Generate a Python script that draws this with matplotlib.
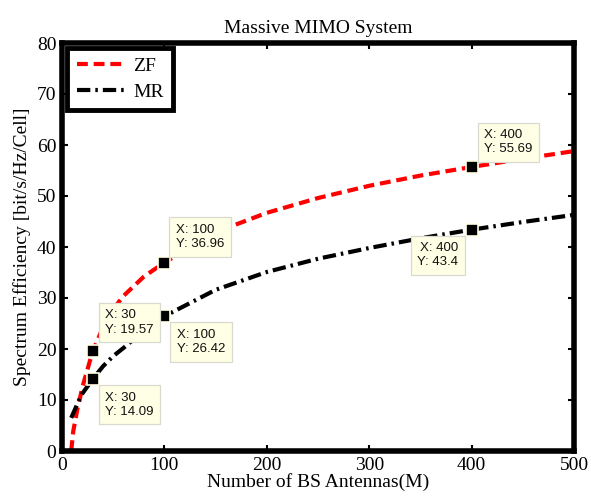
import matplotlib
matplotlib.use("Agg")
import matplotlib.pyplot as plt

m_zf = [9, 11, 15, 17.6, 20, 30, 40, 50, 60, 80, 100, 150, 200, 250, 300, 350, 400, 450, 500]
se_zf = [0.0, 3.9, 8.2, 10.4, 12.6, 19.57, 24.2, 27.8, 30.4, 34.2, 36.96, 42.9, 46.7, 49.6, 52.0, 54.0, 55.69, 57.3, 58.8]
m_mr = [9, 17.6, 20, 30, 40, 50, 60, 80, 100, 150, 200, 250, 300, 350, 400, 450, 500]
se_mr = [6.5, 10.4, 11.3, 14.09, 16.6, 18.6, 20.2, 23.6, 26.42, 31.6, 35.1, 37.7, 39.8, 41.7, 43.4, 44.9, 46.3]

# data tips: x, y, text offset (px), alignment
tips = [
    (30, 19.57, (12.5, 15.5), "left", "bottom"),
    (100, 36.96, (11.5, 12.5), "left", "bottom"),
    (400, 55.69, (12.5, 11.5), "left", "bottom"),
    (30, 14.09, (12.5, -12.5), "left", "top"),
    (100, 26.42, (12.5, -12.5), "left", "top"),
    (400, 43.4, (-13.5, -12.5), "right", "top"),
]

SERIF = ["Liberation Serif", "DejaVu Serif"]
TIPFACE, TIPEDGE = "#ffffe6", "#d9d9d0"

fig = plt.figure(figsize=(5.91, 5.0), dpi=100)
ax = fig.add_axes([62 / 591, 49 / 500, 512 / 591, 408 / 500])

ax.plot(m_zf, se_zf, color="red", lw=3, linestyle=(0, (2.6, 1.4)), label="ZF")
ax.plot(m_mr, se_mr, color="black", lw=3, linestyle=(0, (3.2, 1.2, 0.6, 1.2)), label="MR")

for x, y, off, ha, va in tips:
    ax.plot([x], [y], marker="s", ms=8, color="black", mec=TIPFACE, mew=1.2, zorder=5)
    ax.annotate(f"X: {x:g}\nY: {y:g}", (x, y), xytext=off, textcoords="offset pixels",
                ha=ha, va=va, fontsize=9.5, family="Liberation Sans", color="#111111",
                linespacing=1.25, zorder=6,
                bbox=dict(boxstyle="square,pad=0.5", fc=TIPFACE, ec=TIPEDGE, lw=0.9))

ax.set_xlim(0, 500)
ax.set_ylim(0, 80)
ax.set_xticks(range(0, 501, 100))
ax.set_yticks(range(0, 81, 10))
ax.tick_params(direction="in", length=4, width=1.5, top=True, right=True, labelsize=14)
ax.tick_params(axis="x", pad=4)
ax.tick_params(axis="y", pad=4)
for lab in ax.get_xticklabels() + ax.get_yticklabels():
    lab.set_family(SERIF)
for s in ax.spines.values():
    s.set_linewidth(4)

ax.set_title("Massive MIMO System", family=SERIF, fontsize=14, pad=7)
ax.set_xlabel("Number of BS Antennas(M)", family=SERIF, fontsize=14, labelpad=0)
ax.set_ylabel("Spectrum Efficiency [bit/s/Hz/Cell]", family=SERIF, fontsize=14, labelpad=4)

leg = ax.legend(loc="upper left", bbox_to_anchor=(0.0098, 0.988), borderaxespad=0,
                fancybox=False, edgecolor="black", framealpha=1, handlelength=2.6,
                prop={"family": SERIF, "size": 14}, borderpad=0.5, labelspacing=0.4,
                handletextpad=0.3)
leg.get_frame().set_linewidth(3.5)

fig.savefig("out.png", dpi=100)
